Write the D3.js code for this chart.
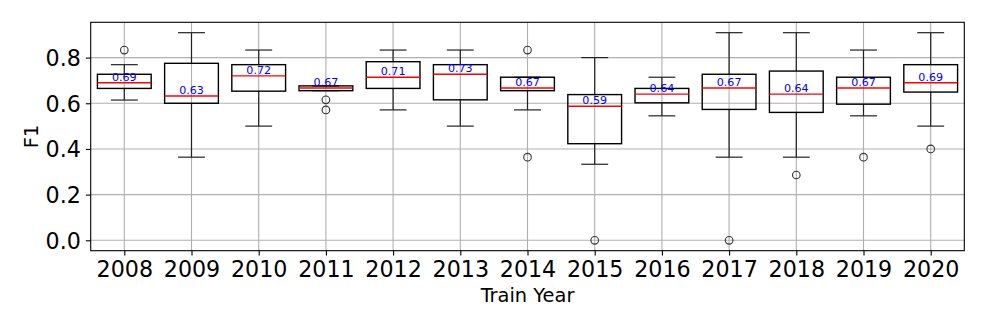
<!DOCTYPE html>
<html>
<head>
<meta charset="utf-8">
<script src="https://cdn.jsdelivr.net/npm/d3@7"></script>
<style>
  html, body { margin: 0; padding: 0; background: #fff; }
  svg { display: block; font-family: "DejaVu Sans", sans-serif; }
</style>
</head>
<body>
<svg id="chart" width="987" height="329"></svg>
<script>
// ---- Data ----
const years       = ["2008","2009","2010","2011","2012","2013","2014","2015","2016","2017","2018","2019","2020"];
const whiskerLow  = [0.614, 0.364, 0.500, 0.655, 0.571, 0.500, 0.571, 0.333, 0.545, 0.364, 0.364, 0.545, 0.500];
const q1          = [0.665, 0.600, 0.653, 0.655, 0.665, 0.615, 0.655, 0.423, 0.602, 0.573, 0.560, 0.596, 0.649];
const medians     = [0.690, 0.632, 0.720, 0.667, 0.714, 0.727, 0.667, 0.587, 0.640, 0.667, 0.640, 0.667, 0.690];
const q3          = [0.727, 0.775, 0.769, 0.676, 0.782, 0.769, 0.714, 0.638, 0.665, 0.727, 0.741, 0.714, 0.769];
const whiskerHigh = [0.769, 0.909, 0.833, 0.676, 0.833, 0.833, 0.714, 0.800, 0.714, 0.909, 0.909, 0.833, 0.909];
const outliers    = [[0.833], [], [], [0.615, 0.571], [], [], [0.833, 0.364], [0.0], [], [0.0], [0.286], [0.364], [0.400]];
const yTicks      = [0.0, 0.2, 0.4, 0.6, 0.8];
const xLabel = "Train Year";
const yLabel = "F1";

// ---- Layout ----
const svg = d3.select("#chart");
const L = 90.7, R = 964.3, T = 22.3, B = 250.7;

const x = d3.scaleLinear().domain([0.5, years.length + 0.5]).range([L, R]);
const y = d3.scaleLinear().domain([-0.0455, 0.9545]).range([B, T]);
const step = x(2) - x(1);
const boxW = 0.8 * step;
const capW = 0.4 * step;

// grid
const grid = svg.append("g");
yTicks.forEach(t => {
  grid.append("line").attr("x1", L).attr("x2", R).attr("y1", y(t)).attr("y2", y(t))
    .attr("stroke", "#b0b0b0").attr("stroke-width", 1.1);
});
years.forEach((yr, i) => {
  grid.append("line").attr("x1", x(i + 1)).attr("x2", x(i + 1)).attr("y1", T).attr("y2", B)
    .attr("stroke", "#b0b0b0").attr("stroke-width", 1.1);
});

// axes
const xAxis = d3.axisBottom(x).tickValues(years.map((d, i) => i + 1))
  .tickFormat((d) => years[d - 1]).tickSize(4.9).tickPadding(4.9);
const gx = svg.append("g").attr("transform", `translate(0,${B})`).call(xAxis);
gx.select(".domain").remove();
gx.selectAll("line").attr("stroke", "#000").attr("stroke-width", 1.1);
gx.selectAll("text").attr("font-size", 22.2).attr("fill", "#000")
  .attr("font-family", "DejaVu Sans").attr("dy", "0.76em");

const yAxis = d3.axisLeft(y).tickValues(yTicks).tickFormat(d3.format(".1f")).tickSize(4.9).tickPadding(4.9);
const gy = svg.append("g").attr("transform", `translate(${L},0)`).call(yAxis);
gy.select(".domain").remove();
gy.selectAll("line").attr("stroke", "#000").attr("stroke-width", 1.1);
gy.selectAll("text").attr("font-size", 22.2).attr("fill", "#000")
  .attr("font-family", "DejaVu Sans").attr("dy", "0.36em");

// boxes
const g = svg.append("g");
years.forEach((yr, i) => {
  const cx = x(i + 1);
  // whiskers
  g.append("line").attr("x1", cx).attr("x2", cx).attr("y1", y(q1[i])).attr("y2", y(whiskerLow[i]))
    .attr("stroke", "#222").attr("stroke-width", 1.2);
  g.append("line").attr("x1", cx).attr("x2", cx).attr("y1", y(q3[i])).attr("y2", y(whiskerHigh[i]))
    .attr("stroke", "#222").attr("stroke-width", 1.2);
  // caps
  [whiskerLow[i], whiskerHigh[i]].forEach(v => {
    g.append("line").attr("x1", cx - capW / 2).attr("x2", cx + capW / 2).attr("y1", y(v)).attr("y2", y(v))
      .attr("stroke", "#222").attr("stroke-width", 1.2);
  });
  // box
  g.append("rect").attr("x", cx - boxW / 2).attr("y", y(q3[i]))
    .attr("width", boxW).attr("height", y(q1[i]) - y(q3[i]))
    .attr("fill", "none").attr("stroke", "#000").attr("stroke-width", 1.4);
  // median
  g.append("line").attr("x1", cx - boxW / 2).attr("x2", cx + boxW / 2)
    .attr("y1", y(medians[i])).attr("y2", y(medians[i]))
    .attr("stroke", "#ff0000").attr("stroke-width", 1.4);
  // outliers
  outliers[i].forEach(v => {
    g.append("circle").attr("cx", cx).attr("cy", y(v)).attr("r", 3.8)
      .attr("fill", "none").attr("stroke", "#333").attr("stroke-width", 1.1);
  });
  // median label
  g.append("text").attr("x", cx).attr("y", y(medians[i]) - 1.8)
    .attr("text-anchor", "middle").attr("font-size", 11.1).attr("fill", "#0000ff")
    .text(d3.format(".2f")(medians[i]));
});

// frame
svg.append("rect").attr("x", L).attr("y", T).attr("width", R - L).attr("height", B - T)
  .attr("fill", "none").attr("stroke", "#000").attr("stroke-width", 1.1);

// axis labels
svg.append("text").attr("x", (L + R) / 2).attr("y", 302.3).attr("text-anchor", "middle")
  .attr("font-size", 19.4).attr("fill", "#000").text(xLabel);
svg.append("text").attr("transform", `translate(37.5,${(T + B) / 2}) rotate(-90)`)
  .attr("text-anchor", "middle").attr("font-size", 19.4).attr("fill", "#000").text(yLabel);
</script>
</body>
</html>
